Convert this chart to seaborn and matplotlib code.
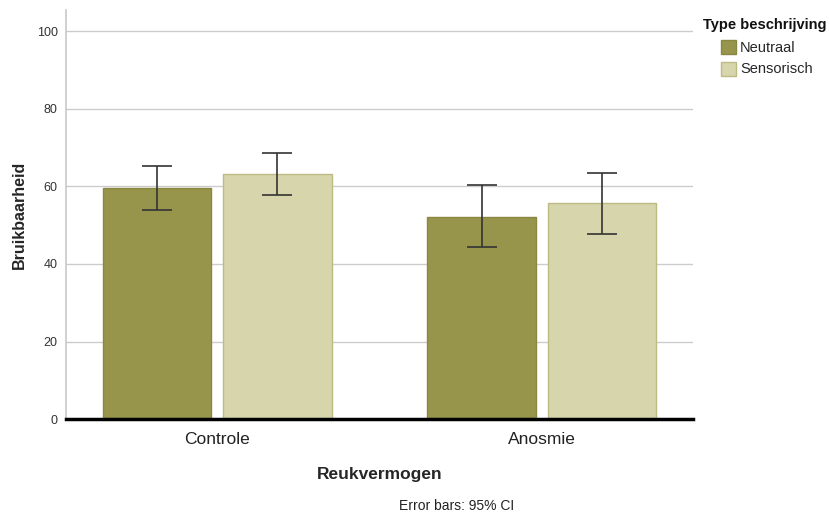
import matplotlib
matplotlib.use("Agg")
import matplotlib.pyplot as plt
from matplotlib.patches import Patch
import seaborn as sns
import pandas as pd

# Mean usability per smell group and description type, with 95% CI bounds
groups = ["Controle", "Anosmie"]
types = ["Neutraal", "Sensorisch"]
neutraal_mean = [59.5, 52.1]
sensorisch_mean = [63.1, 55.6]
neutraal_ci = [(53.9, 65.3), (44.3, 60.4)]
sensorisch_ci = [(57.7, 68.6), (47.8, 63.4)]

df = pd.DataFrame({
    "Reukvermogen": groups * 2,
    "Type beschrijving": [types[0]] * 2 + [types[1]] * 2,
    "Bruikbaarheid": neutraal_mean + sensorisch_mean,
})
ci = {(g, types[0]): c for g, c in zip(groups, neutraal_ci)}
ci.update({(g, types[1]): c for g, c in zip(groups, sensorisch_ci)})

sns.set_style("white")
plt.rcParams["font.family"] = ["Liberation Sans", "DejaVu Sans"]

fig = plt.figure(figsize=(8.3, 5.13), dpi=100)
ax = fig.add_axes([0.0795, 0.183, 0.7555, 0.797])

palette = {"Neutraal": "#97944b", "Sensorisch": "#d6d5ab"}
edges = {"Neutraal": "#8a8742", "Sensorisch": "#bdbb84"}

sns.barplot(data=df, x="Reukvermogen", y="Bruikbaarheid", hue="Type beschrijving",
            order=groups, hue_order=types, palette=palette, saturation=1,
            width=0.742, gap=0.1, errorbar=None, ax=ax, legend=False)

for container, t in zip(ax.containers, types):
    for bar, g in zip(container, groups):
        bar.set_edgecolor(edges[t])
        bar.set_linewidth(1.0)
        lo, hi = ci[(g, t)]
        xc = bar.get_x() + bar.get_width() / 2
        ax.vlines(xc, lo, hi, color="#333333", lw=1.2, zorder=4)
        ax.hlines([lo, hi], xc - 0.046, xc + 0.046, color="#333333", lw=1.2, zorder=4)

ax.set_xlim(-0.465, 1.465)
ax.set_ylim(0, 105.4)
ax.set_yticks([0, 20, 40, 60, 80, 100])
ax.yaxis.grid(True, color="#cccccc", lw=1.0)
ax.set_axisbelow(True)
for s in ["top", "right"]:
    ax.spines[s].set_visible(False)
ax.spines["left"].set_color("#c8c8c8")
ax.spines["left"].set_linewidth(1.2)
ax.spines["bottom"].set_color("black")
ax.spines["bottom"].set_linewidth(2.5)
ax.spines["bottom"].set_zorder(5)
ax.tick_params(axis="y", length=0, labelsize=9, labelcolor="#333333", pad=6)
ax.tick_params(axis="x", length=0, labelsize=12.5, labelcolor="#222222", pad=9)

ax.set_ylabel("Bruikbaarheid", fontsize=11.5, fontweight="bold", labelpad=7)
ax.set_xlabel("Reukvermogen", fontsize=12.5, fontweight="bold", labelpad=15)

# Legend title on its own, entries indented below it
fig.text(703 / 830, 1 - 25 / 513, "Type beschrijving", ha="left", va="center",
         fontsize=10.5, fontweight="bold", color="#111111")
handles = [Patch(facecolor=palette[t], edgecolor=edges[t], lw=1.0, label=t) for t in types]
fig.legend(handles=handles, loc="upper left", bbox_to_anchor=(721 / 830, 1 - 40 / 513),
           frameon=False, fontsize=10.5, handlelength=1.0, handleheight=1.1,
           handletextpad=0.3, labelspacing=0.45, borderpad=0, borderaxespad=0)

fig.text(457 / 830, 1 - 506 / 513, "Error bars: 95% CI", ha="center", va="center",
         fontsize=10, color="#222222")

fig.savefig("out.png", dpi=100)
